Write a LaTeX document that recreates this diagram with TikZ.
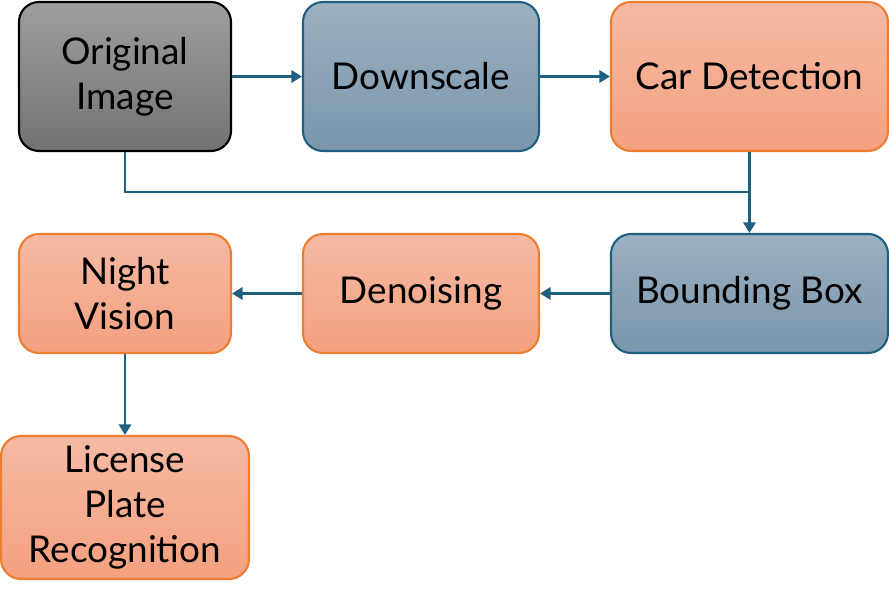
\documentclass[tikz,border=0pt]{standalone}
\usepackage{fontspec}
\setmainfont{Lato}
\usepackage{xcolor}
\usepackage{tikz}
\usetikzlibrary{arrows.meta}

\definecolor{arrowblue}{HTML}{1F5F80}
\definecolor{grayedge}{HTML}{000000}
\definecolor{blueedge}{HTML}{1F5F80}
\definecolor{orangeedge}{HTML}{ED7D31}

\tikzset{
  stepgray/.style={draw=grayedge, line width=1.2pt, rounded corners=0.4cm, top color=black!38, bottom color=black!55, align=center, font=\fontsize{21}{25.5}\selectfont},
  stepblue/.style={draw=blueedge, line width=1.2pt, rounded corners=0.4cm, top color={rgb,255:red,156;green,176;blue,192}, bottom color={rgb,255:red,122;green,150;blue,172}, align=center, font=\fontsize{21}{25.5}\selectfont},
  steporange/.style={draw=orangeedge, line width=1.2pt, rounded corners=0.4cm, top color={rgb,255:red,245;green,186;blue,164}, bottom color={rgb,255:red,244;green,160;blue,126}, align=center, font=\fontsize{21}{25.5}\selectfont},
  flow/.style={draw=arrowblue, line width=1.4pt, -{Triangle[length=6pt,width=7pt]}}
}

\begin{document}
\begin{tikzpicture}
                    \useasboundingbox (0,0) rectangle (17.78,-12);

                    \node[stepgray, minimum width=4.24cm, minimum height=2.98cm] (orig) at (2.50,-1.53) {Original\\Image};
                    \node[stepblue, minimum width=4.72cm, minimum height=2.98cm] (down) at (8.42,-1.53) {Downscale};
                    \node[steporange, minimum width=5.54cm, minimum height=2.98cm] (car) at (14.99,-1.53) {Car Detection};

                    \node[stepblue, minimum width=5.54cm, minimum height=2.38cm] (bbox) at (14.99,-5.87) {Bounding Box};
                    \node[steporange, minimum width=4.72cm, minimum height=2.38cm] (deno) at (8.42,-5.87) {Denoising};
                    \node[steporange, minimum width=4.24cm, minimum height=2.38cm] (night) at (2.50,-5.87) {Night\\Vision};

                    \node[steporange, minimum width=4.96cm, minimum height=2.86cm] (lic) at (2.50,-10.15) {License\\Plate\\Recognition};

                    \coordinate (join) at (14.99,-3.84);

                    \draw[flow] (orig) -- (down);
                    \draw[flow] (down) -- (car);
                    \draw[flow] (car) -- (bbox);
                    \draw[draw=arrowblue, line width=1.4pt] (orig.south) |- (join);
                    \draw[flow] (bbox) -- (deno);
                    \draw[flow] (deno) -- (night);
                    \draw[flow] (night) -- (lic);
                \end{tikzpicture}
\end{document}
